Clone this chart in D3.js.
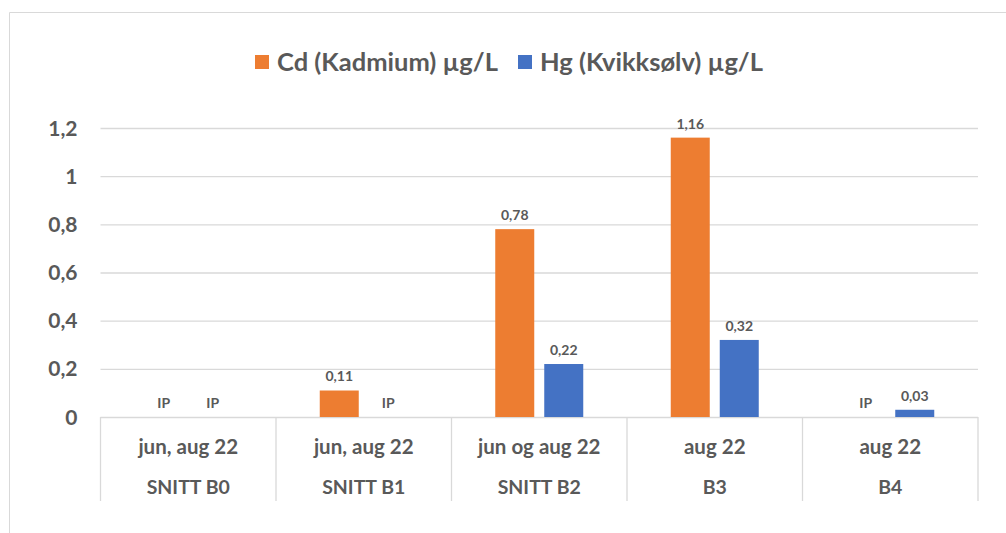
<!DOCTYPE html>
<html>
<head>
<meta charset="utf-8">
<script src="https://cdn.jsdelivr.net/npm/d3@7"></script>
<style>
  html, body { margin: 0; padding: 0; background: #fff; }
  svg { display: block; }
  text { font-family: Lato, "Open Sans", sans-serif; font-weight: bold; fill: #595959; }
</style>
</head>
<body>
<svg id="chart" width="1006" height="533"></svg>
<script>
// Sampling periods (top row) and stations (bottom row)
const periods  = ["jun, aug 22", "jun, aug 22", "jun og aug 22", "aug 22", "aug 22"];
const stations = ["SNITT B0", "SNITT B1", "SNITT B2", "B3", "B4"];

// Concentrations in µg/L; null = IP (not detected)
const cadmium = [null, 0.11, 0.78, 1.16, null];
const mercury = [null, null, 0.22, 0.32, 0.03];

const seriesNames  = ["Cd (Kadmium) µg/L", "Hg (Kvikksølv) µg/L"];
const seriesColors = ["#ED7D31", "#4472C4"];
const yTicks = [0, 0.2, 0.4, 0.6, 0.8, 1, 1.2];

const svg = d3.select("#chart");
const W = 1006, H = 533;
const plot = { left: 100.5, right: 978, top: 128, bottom: 417 };

// outer chart frame
svg.append("path")
  .attr("d", `M9.5,${H} V12.5 H${W}`)
  .attr("fill", "none").attr("stroke", "#d9d9d9").attr("stroke-width", 1);

const x = d3.scaleBand().domain(d3.range(stations.length))
  .range([plot.left, plot.right]);
const y = d3.scaleLinear().domain([0, 1.2]).range([plot.bottom, plot.top]);

const fmt = v => d3.format(".2f")(v).replace(/0$/, "").replace(".", ",");
const tickFmt = v => String(+v.toFixed(1)).replace(".", ",");

// gridlines + y labels
const yAxis = d3.axisLeft(y).tickValues(yTicks).tickSize(-(plot.right - plot.left))
  .tickFormat(tickFmt).tickPadding(23);
const gy = svg.append("g").attr("transform", `translate(${plot.left},0)`).call(yAxis);
gy.select(".domain").remove();
gy.selectAll(".tick line").attr("stroke", "#d9d9d9").attr("stroke-width", 1.3);
gy.selectAll(".tick text").attr("font-size", 21).attr("fill", "#595959")
  .attr("font-family", "Lato, sans-serif").attr("font-weight", "bold").attr("dy", "0.34em");

// category separators below the axis
const sepBottom = 501;
const bounds = x.domain().map(i => x(i)).concat([plot.right]);
svg.append("g").selectAll("line").data(bounds).join("line")
  .attr("x1", d => d).attr("x2", d => d)
  .attr("y1", plot.bottom).attr("y2", sepBottom)
  .attr("stroke", "#d9d9d9").attr("stroke-width", 1.3);

// two-row category labels
svg.append("g").selectAll("text").data(periods).join("text")
  .attr("x", (d, i) => x(i) + x.bandwidth() / 2).attr("y", 447)
  .attr("text-anchor", "middle").attr("dy", "0.35em").attr("font-size", 20.5)
  .text(d => d);
svg.append("g").selectAll("text").data(stations).join("text")
  .attr("x", (d, i) => x(i) + x.bandwidth() / 2).attr("y", 487)
  .attr("text-anchor", "middle").attr("dy", "0.35em").attr("font-size", 19.5)
  .text(d => d);

// bars within each category
const barW = 39, gap = 10;
const xs = d3.scaleOrdinal().domain([0, 1])
  .range([-(gap / 2 + barW), gap / 2]);

const series = [cadmium, mercury];
series.forEach((vals, s) => {
  const g = svg.append("g");
  const cx = i => x(i) + x.bandwidth() / 2 + xs(s);
  g.selectAll("rect").data(vals.map((v, i) => ({ v, i })).filter(d => d.v !== null))
    .join("rect")
    .attr("x", d => cx(d.i)).attr("width", barW)
    .attr("y", d => y(d.v)).attr("height", d => y(0) - y(d.v))
    .attr("fill", seriesColors[s]);
  g.selectAll("text").data(vals.map((v, i) => ({ v, i }))).join("text")
    .attr("x", d => cx(d.i) + barW / 2)
    .attr("y", d => y(d.v === null ? 0 : d.v) - 14)
    .attr("text-anchor", "middle").attr("dy", "0.35em")
    .attr("font-size", 14).attr("fill", "#404040")
    .text(d => d.v === null ? "IP" : fmt(d.v));
});

// legend
const legend = svg.append("g");
const legendItems = [{ x: 255, name: seriesNames[0], c: seriesColors[0] },
                     { x: 518, name: seriesNames[1], c: seriesColors[1] }];
legendItems.forEach(it => {
  legend.append("rect").attr("x", it.x).attr("y", 55).attr("width", 14).attr("height", 14)
    .attr("fill", it.c);
  legend.append("text").attr("x", it.x + 22).attr("y", 62).attr("dy", "0.35em")
    .attr("font-size", 25.5).text(it.name);
});
</script>
</body>
</html>
